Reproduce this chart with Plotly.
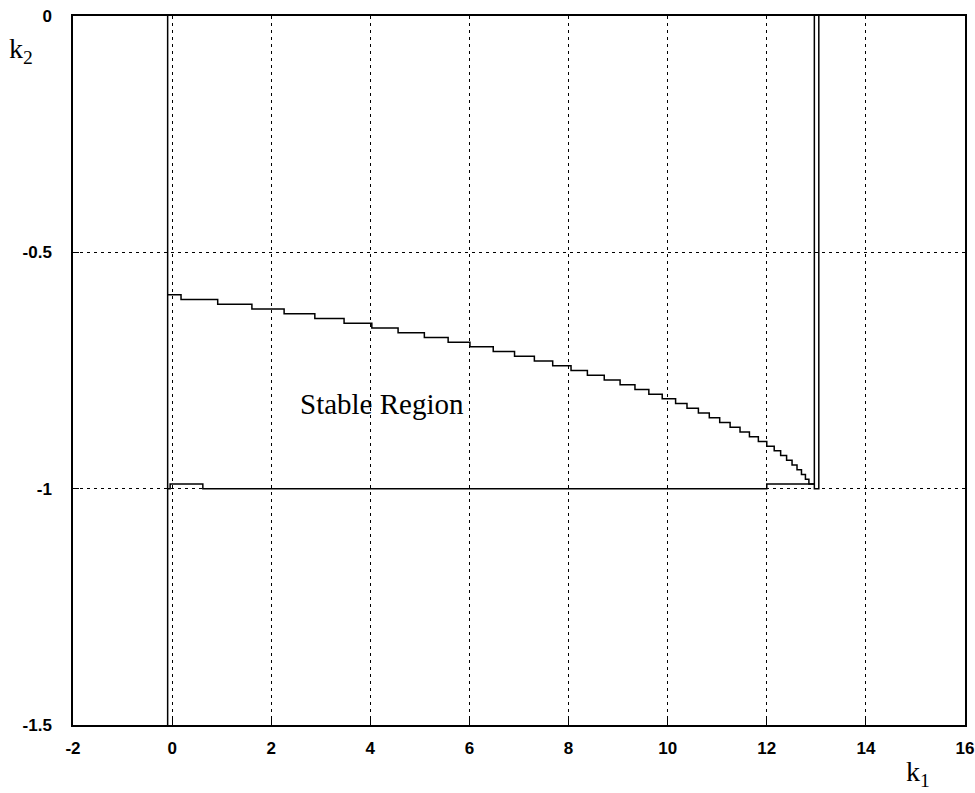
import plotly.graph_objects as go

# Upper stability boundary (staircase): k1 where each k2 level begins
upper_k1 = [-0.09, 0.18, 0.92, 1.61, 2.26, 2.88, 3.47, 4.03, 4.56, 5.09,
            5.57, 6.01, 6.48, 6.91, 7.31, 7.68, 8.05, 8.38, 8.72, 9.04,
            9.34, 9.62, 9.89, 10.16, 10.39, 10.62, 10.84, 11.05, 11.26, 11.46,
            11.65, 11.83, 12.00, 12.15, 12.28, 12.40, 12.51, 12.61, 12.70, 12.78,
            12.85, 12.96]
upper_k2 = [-0.59, -0.60, -0.61, -0.62, -0.63, -0.64, -0.65, -0.66, -0.67, -0.68,
            -0.69, -0.70, -0.71, -0.72, -0.73, -0.74, -0.75, -0.76, -0.77, -0.78,
            -0.79, -0.80, -0.81, -0.82, -0.83, -0.84, -0.85, -0.86, -0.87, -0.88,
            -0.89, -0.90, -0.91, -0.92, -0.93, -0.94, -0.95, -0.96, -0.97, -0.98,
            -0.99, -0.99]

# Lower boundary (near k2 = -1)
lower_k1 = [-0.09, -0.04, 0.62, 12.00, 12.96]
lower_k2 = [-1.00, -0.99, -1.00, -0.99, -0.99]

# Left vertical boundary
left_k1 = [-0.09, -0.09]
left_k2 = [0.0, -1.5]

# Right boundary (narrow double line near k1 = 13)
right_k1 = [12.96, 12.96, 13.05, 13.05]
right_k2 = [0.0, -1.00, -1.00, 0.0]

x_ticks = [-2, 0, 2, 4, 6, 8, 10, 12, 14, 16]
y_ticks = [0, -0.5, -1, -1.5]
y_tick_text = ["<b>0</b>", "<b>-0.5</b>", "<b>-1</b>", "<b>-1.5</b>"]

line_style = dict(color="black", width=1.5)

fig = go.Figure()
fig.add_trace(go.Scatter(x=left_k1, y=left_k2, mode="lines", line=line_style))
fig.add_trace(go.Scatter(x=upper_k1, y=upper_k2, mode="lines",
                         line=dict(color="black", width=1.5, shape="hv")))
fig.add_trace(go.Scatter(x=lower_k1, y=lower_k2, mode="lines",
                         line=dict(color="black", width=1.5, shape="hv")))
fig.add_trace(go.Scatter(x=right_k1, y=right_k2, mode="lines", line=line_style))

tick_font = dict(family="Liberation Sans, Arial, sans-serif", size=17, color="black")
serif = "Liberation Serif, Times New Roman, serif"

L, R, T, B = 73, 10, 16, 68

fig.update_layout(
    width=975, height=793,
    margin=dict(l=L, r=R, t=T, b=B, autoexpand=False),
    paper_bgcolor="white", plot_bgcolor="white",
    showlegend=False,
    xaxis=dict(range=[-2, 16], tickvals=x_ticks,
               ticktext=["<b>%d</b>" % v for v in x_ticks],
               showline=True, mirror=True, linecolor="black", linewidth=1.5,
               showgrid=True, gridcolor="black", gridwidth=1, griddash="3px,4px",
               ticks="inside", ticklen=6, tickcolor="black", automargin=False,
               ticklabeloverflow="allow",
               tickfont=tick_font, zeroline=False, ticklabelstandoff=7),
    yaxis=dict(range=[-1.5, 0], tickvals=y_ticks, ticktext=y_tick_text,
               showline=True, mirror=True, linecolor="black", linewidth=1.5,
               showgrid=True, gridcolor="black", gridwidth=1, griddash="3px,4px",
               ticks="inside", ticklen=6, tickcolor="black", automargin=False,
               ticklabeloverflow="allow",
               tickfont=tick_font, zeroline=False, ticklabelstandoff=16),
)

plot_w = 975 - L - R
plot_h = 793 - T - B

def px(xp, yp):
    return (xp - L) / plot_w, 1 - (yp - T) / plot_h

kx2, ky2 = px(21, 50)
kx1, ky1 = px(918, 774)

fig.update_layout(annotations=[
    dict(text="Stable Region", x=4.24, y=-0.82, xref="x", yref="y",
         showarrow=False, font=dict(family=serif, size=29, color="black")),
    dict(text="k<sub>2</sub>", x=kx2, y=ky2, xref="paper", yref="paper",
         showarrow=False, xanchor="center", yanchor="middle",
         font=dict(family=serif, size=28, color="black")),
    dict(text="k<sub>1</sub>", x=kx1, y=ky1, xref="paper", yref="paper",
         showarrow=False, xanchor="center", yanchor="middle",
         font=dict(family=serif, size=28, color="black")),
])

fig.write_html("out.html",
               config={"displayModeBar": False},
               post_script="document.body.style.margin='0';document.body.style.overflow='hidden';")
